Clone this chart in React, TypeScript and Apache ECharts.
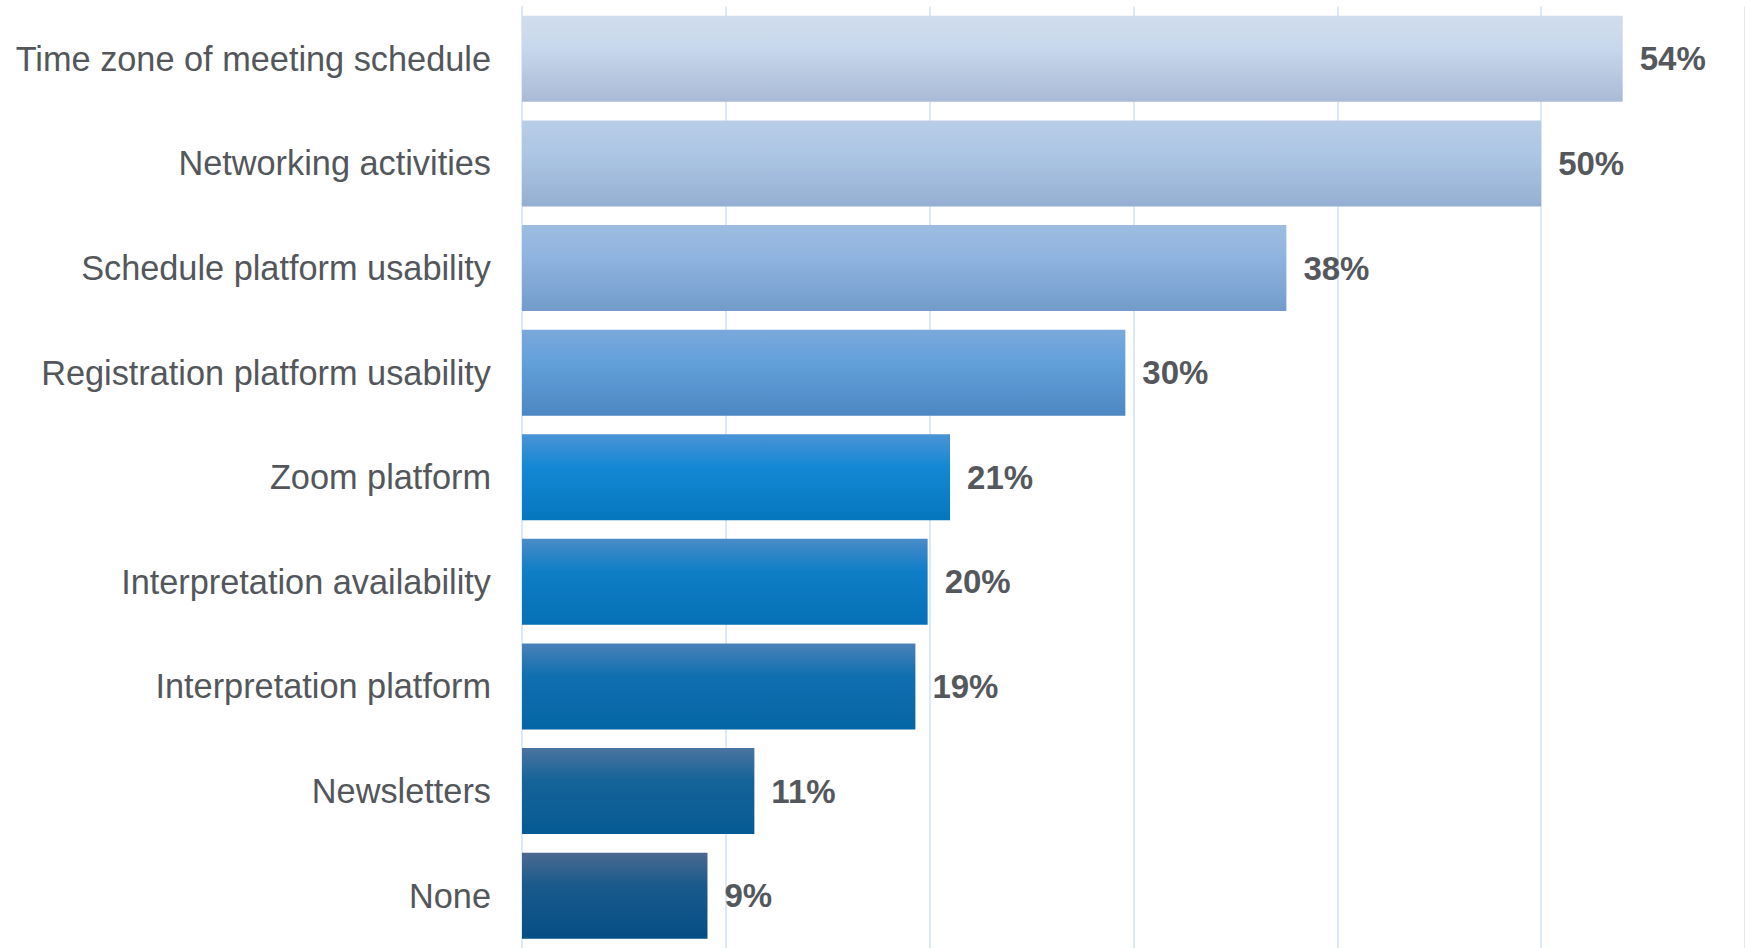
import React, { useEffect, useRef } from "react";
import * as echarts from "echarts";

const categories = [
  "Time zone of meeting schedule",
  "Networking activities",
  "Schedule platform usability",
  "Registration platform usability",
  "Zoom platform",
  "Interpretation availability",
  "Interpretation platform",
  "Newsletters",
  "None",
];

const values = [54, 50, 37.5, 29.6, 21, 19.9, 19.3, 11.4, 9.1];

// top, middle, bottom colours of each bar's vertical gradient
const barTop = ["#d1ddec", "#b9cde6", "#9ebce0", "#7ba9dc", "#4b93d6", "#4a8cc8", "#4a81b8", "#4a74a0", "#4a6a90"];
const barMid = ["#c7d7ec", "#adc6e5", "#8fb3e0", "#62a0da", "#1488d4", "#0e7ec6", "#0f6fb0", "#156399", "#1a5a8c"];
const barBottom = ["#a9bad6", "#95afd2", "#739ccb", "#4d87c3", "#0577bf", "#0570b5", "#0566a6", "#065b94", "#044e84"];

export default function App() {
  const ref = useRef<HTMLDivElement>(null);

  useEffect(() => {
    if (!ref.current) return;
    const chart = echarts.init(ref.current, null, { renderer: "svg" });
    const data = values.map((v, i) => ({
      value: v,
      itemStyle: {
        color: new echarts.graphic.LinearGradient(0, 0, 0, 1, [
          { offset: 0, color: barTop[i] },
          { offset: 0.38, color: barMid[i] },
          { offset: 1, color: barBottom[i] },
        ]),
      },
    }));
    chart.setOption({
      animation: false,
      backgroundColor: "#ffffff",
      grid: { left: 522, width: 1229, top: 6.5, height: 947.5, containLabel: false },
      xAxis: {
        type: "value",
        min: 0,
        max: 60,
        interval: 10,
        axisLabel: { show: false },
        axisLine: { show: false },
        axisTick: { show: false },
        splitLine: { show: true, lineStyle: { color: "#dceaf7", width: 2 } },
      },
      yAxis: {
        type: "category",
        data: categories,
        inverse: true,
        axisTick: { show: false },
        axisLine: { show: true, lineStyle: { color: "#dceaf7", width: 2 } },
        axisLabel: {
          margin: 31,
          fontSize: 34.3,
          color: "#53575c",
          fontFamily: "'Liberation Sans', Arial, sans-serif",
        },
      },
      series: [
        {
          type: "bar",
          data,
          barWidth: 86,
          label: {
            show: true,
            position: "right",
            distance: 17,
            fontSize: 33,
            fontWeight: "bold",
            color: "#54585d",
            fontFamily: "'Liberation Sans', Arial, sans-serif",
            formatter: (p: any) => Math.round(p.value) + "%",
          },
        },
      ],
    });
    return () => chart.dispose();
  }, []);

  return (
    <div
      ref={ref}
      style={{ position: "fixed", left: 0, top: 0, width: 1745, height: 948, background: "#fff" }}
    />
  );
}
